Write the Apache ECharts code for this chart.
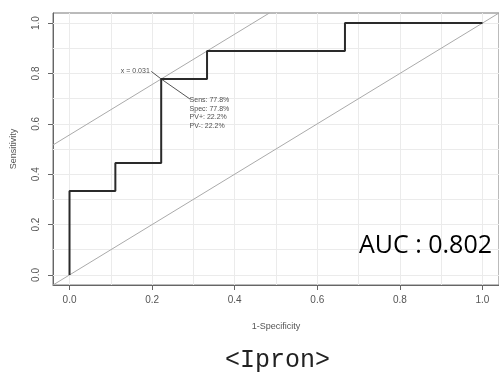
<!DOCTYPE html>
<html lang="en">
<head>
    <meta charset="UTF-8">
    <title>ROC</title>
    <script src="https://cdn.jsdelivr.net/npm/echarts@6/dist/echarts.min.js"></script>
    <style>
        body { margin: 0; background: #fff; }
    </style>
</head>
<body>
<div id="main" style="width: 499px;height: 372px;"></div>
<script>
    // ROC curve corners (1-specificity, sensitivity)
    var fpr = [0, 0, 0.111, 0.111, 0.222, 0.222, 0.333, 0.333, 0.667, 0.667, 1];
    var tpr = [0, 0.333, 0.333, 0.444, 0.444, 0.778, 0.778, 0.889, 0.889, 1, 1];
    var tickValues = [0, 0.2, 0.4, 0.6, 0.8, 1.0];
    var gridValues = [0, 0.1, 0.2, 0.3, 0.4, 0.5, 0.6, 0.7, 0.8, 0.9, 1.0];
    // best threshold point
    var best = [0.222, 0.778];
    var bestLabel = 'x = 0.031';
    var bestStats = ['Sens: 77.8%', 'Spec: 77.8%', 'PV+: 22.2%', 'PV-: 22.2%'];
    var aucText = 'AUC : 0.802';
    var caption = '<Ipron>';

    var lo = -0.04, hi = 1.04;
    var rocData = fpr.map(function (v, i) { return [v, tpr[i]]; });
    // slope 1 line through the best point
    var b = best[1] - best[0];
    var tangent = [[lo, lo + b], [hi - b, hi]];
    var labelPos = [best[0] - 0.024, best[1] + 0.03];
    var statsPos = [best[0] + 0.07, best[1] - 0.08];

    var axisFont = {color: '#555', fontFamily: 'Liberation Sans', fontSize: 10};

    var myChart = echarts.init(document.getElementById('main'));
    var option = {
        animation: false,
        backgroundColor: '#fff',
        title: [
            {
                text: aucText, right: 7, top: 233, padding: 0,
                textStyle: {fontFamily: 'Open Sans', fontSize: 25, fontWeight: 'normal', color: '#000'}
            },
            {
                text: caption, left: 225, top: 348, padding: 0,
                textStyle: {fontFamily: 'Liberation Mono', fontSize: 25, fontWeight: 'normal', color: '#222'}
            }
        ],
        grid: {
            left: 53, top: 13, right: -3, bottom: 87,
            show: true, borderColor: '#777', borderWidth: 1, backgroundColor: '#fff'
        },
        xAxis: {
            type: 'value', min: lo, max: hi,
            name: '1-Specificity', nameLocation: 'middle', nameGap: 37,
            nameTextStyle: {color: '#555', fontFamily: 'Liberation Sans', fontSize: 9},
            axisLine: {show: true, onZero: false, lineStyle: {color: '#666'}},
            axisTick: {show: true, customValues: tickValues, length: 5, lineStyle: {color: '#666'}},
            axisLabel: Object.assign({customValues: tickValues, margin: 10,
                formatter: function (v) { return v.toFixed(1); }}, axisFont),
            splitLine: {show: false}
        },
        yAxis: {
            type: 'value', min: lo, max: hi,
            name: 'Sensitivity', nameLocation: 'middle', nameGap: 35,
            nameTextStyle: {color: '#555', fontFamily: 'Liberation Sans', fontSize: 9},
            axisLine: {show: true, onZero: false, lineStyle: {color: '#666'}},
            axisTick: {show: true, customValues: tickValues, length: 5, lineStyle: {color: '#666'}},
            axisLabel: Object.assign({customValues: tickValues, margin: 12, rotate: 90,
                formatter: function (v) { return v.toFixed(1); }}, axisFont),
            splitLine: {show: false}
        },
        series: [
            {
                // grid lines
                type: 'line', data: [], silent: true, z: 1,
                markLine: {
                    silent: true, symbol: 'none', label: {show: false}, z: 1,
                    lineStyle: {color: '#ebebeb', width: 1, type: 'solid'},
                    data: gridValues.map(function (v) { return {xAxis: v}; })
                        .concat(gridValues.map(function (v) { return {yAxis: v}; }))
                }
            },
            {
                type: 'line', data: [[lo, lo], [hi, hi]], symbol: 'none', silent: true, z: 3,
                lineStyle: {color: '#aaa', width: 1}
            },
            {
                type: 'line', data: tangent, symbol: 'none', silent: true, z: 3,
                lineStyle: {color: '#aaa', width: 1}
            },
            {
                type: 'line', data: [labelPos, best, statsPos], symbol: 'none', silent: true, z: 3,
                lineStyle: {color: '#555', width: 1}
            },
            {
                type: 'line', data: rocData, symbol: 'none', silent: true, z: 4,
                lineStyle: {color: '#2a2a2a', width: 2}
            },
            {
                type: 'scatter', symbolSize: 1, silent: true, z: 5,
                itemStyle: {color: 'rgba(0,0,0,0)'},
                data: [
                    {value: labelPos, label: {show: true, position: 'left', distance: 1,
                        formatter: bestLabel}},
                    {value: statsPos, label: {show: true, position: [0, -3], align: 'left',
                        verticalAlign: 'top', lineHeight: 8.7, formatter: bestStats.join('\n')}}
                ],
                label: {color: '#222', fontFamily: 'Liberation Sans', fontSize: 7}
            }
        ]
    };
    myChart.setOption(option);
</script>
</body>
</html>
